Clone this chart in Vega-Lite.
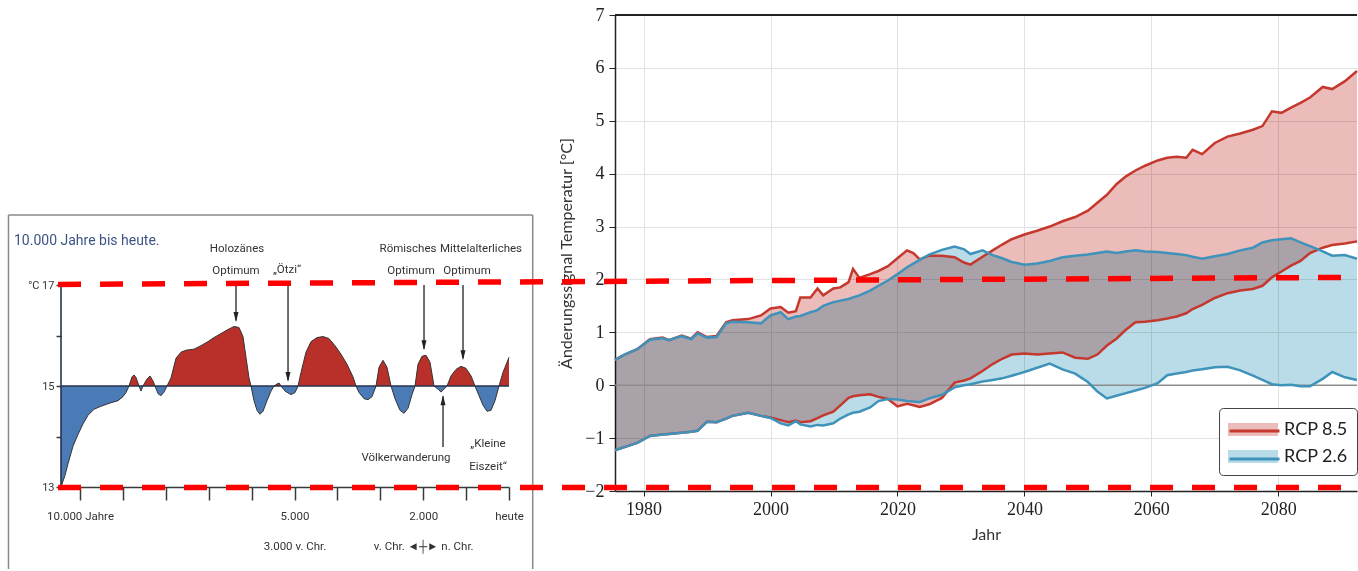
{
"$schema": "https://vega.github.io/schema/vega-lite/v6.json",
"background": "white",
"padding": {"left": 7, "top": 6, "right": 0, "bottom": 0},
"autosize": {"type": "pad"},
"bounds": "flush",
"spacing": 106,
"config": {
  "view": {"stroke": null},
  "font": "Lato"
},
"resolve": {
  "scale": {"x": "independent", "y": "independent", "fill": "independent", "stroke": "independent", "shape": "independent"},
  "legend": {"fill": "independent", "stroke": "independent"}
},
"datasets": {
  "holo": [
    {"t":-10443,"v":13.0,"k":"cold"},{"t":-10350,"v":13.23,"k":"cold"},{"t":-10280,"v":13.46,"k":"cold"},{"t":-10163,"v":13.81,"k":"cold"},{"t":-10047,"v":14.04,"k":"cold"},{"t":-9930,"v":14.25,"k":"cold"},{"t":-9814,"v":14.42,"k":"cold"},{"t":-9674,"v":14.54,"k":"cold"},{"t":-9511,"v":14.6,"k":"cold"},{"t":-9277,"v":14.67,"k":"cold"},{"t":-9114,"v":14.71,"k":"cold"},{"t":-8998,"v":14.79,"k":"cold"},{"t":-8928,"v":14.87,"k":"cold"},{"t":-8858,"v":15,"k":"cold"},
    {"t":-8858,"v":15,"k":"warm"},{"t":-8788,"v":15.18,"k":"warm"},{"t":-8741,"v":15.22,"k":"warm"},{"t":-8695,"v":15.17,"k":"warm"},{"t":-8625,"v":15,"k":"warm"},
    {"t":-8625,"v":15,"k":"cold"},{"t":-8578,"v":14.9,"k":"cold"},{"t":-8532,"v":15,"k":"cold"},
    {"t":-8532,"v":15,"k":"warm"},{"t":-8438,"v":15.14,"k":"warm"},{"t":-8368,"v":15.2,"k":"warm"},{"t":-8298,"v":15.1,"k":"warm"},{"t":-8252,"v":15,"k":"warm"},
    {"t":-8252,"v":15,"k":"cold"},{"t":-8182,"v":14.85,"k":"cold"},{"t":-8112,"v":14.81,"k":"cold"},{"t":-8042,"v":14.88,"k":"cold"},{"t":-7972,"v":15,"k":"cold"},
    {"t":-7972,"v":15,"k":"warm"},{"t":-7879,"v":15.16,"k":"warm"},{"t":-7762,"v":15.55,"k":"warm"},{"t":-7646,"v":15.67,"k":"warm"},{"t":-7529,"v":15.71,"k":"warm"},{"t":-7343,"v":15.73,"k":"warm"},{"t":-7179,"v":15.8,"k":"warm"},{"t":-7016,"v":15.88,"k":"warm"},{"t":-6877,"v":15.96,"k":"warm"},{"t":-6713,"v":16.04,"k":"warm"},{"t":-6550,"v":16.12,"k":"warm"},{"t":-6410,"v":16.18,"k":"warm"},{"t":-6294,"v":16.16,"k":"warm"},{"t":-6200,"v":15.98,"k":"warm"},{"t":-6131,"v":15.57,"k":"warm"},{"t":-6061,"v":15.16,"k":"warm"},{"t":-6014,"v":15,"k":"warm"},
    {"t":-6014,"v":15,"k":"cold"},{"t":-5944,"v":14.71,"k":"cold"},{"t":-5874,"v":14.52,"k":"cold"},{"t":-5804,"v":14.44,"k":"cold"},{"t":-5734,"v":14.5,"k":"cold"},{"t":-5641,"v":14.71,"k":"cold"},{"t":-5548,"v":14.9,"k":"cold"},{"t":-5478,"v":15,"k":"cold"},
    {"t":-5478,"v":15,"k":"warm"},{"t":-5408,"v":15.04,"k":"warm"},{"t":-5361,"v":15.06,"k":"warm"},{"t":-5315,"v":15,"k":"warm"},
    {"t":-5315,"v":15,"k":"cold"},{"t":-5221,"v":14.9,"k":"cold"},{"t":-5081,"v":14.83,"k":"cold"},{"t":-4988,"v":14.87,"k":"cold"},{"t":-4918,"v":15,"k":"cold"},
    {"t":-4918,"v":15,"k":"warm"},{"t":-4848,"v":15.27,"k":"warm"},{"t":-4732,"v":15.67,"k":"warm"},{"t":-4615,"v":15.88,"k":"warm"},{"t":-4475,"v":15.96,"k":"warm"},{"t":-4335,"v":15.98,"k":"warm"},{"t":-4196,"v":15.94,"k":"warm"},{"t":-4056,"v":15.8,"k":"warm"},{"t":-3916,"v":15.63,"k":"warm"},{"t":-3776,"v":15.43,"k":"warm"},{"t":-3636,"v":15.18,"k":"warm"},{"t":-3566,"v":15,"k":"warm"},
    {"t":-3566,"v":15,"k":"cold"},{"t":-3496,"v":14.87,"k":"cold"},{"t":-3380,"v":14.75,"k":"cold"},{"t":-3286,"v":14.73,"k":"cold"},{"t":-3193,"v":14.79,"k":"cold"},{"t":-3100,"v":15,"k":"cold"},
    {"t":-3100,"v":15,"k":"warm"},{"t":-3030,"v":15.37,"k":"warm"},{"t":-2937,"v":15.51,"k":"warm"},{"t":-2844,"v":15.37,"k":"warm"},{"t":-2750,"v":15,"k":"warm"},
    {"t":-2750,"v":15,"k":"cold"},{"t":-2657,"v":14.75,"k":"cold"},{"t":-2541,"v":14.52,"k":"cold"},{"t":-2447,"v":14.46,"k":"cold"},{"t":-2354,"v":14.56,"k":"cold"},{"t":-2261,"v":14.83,"k":"cold"},{"t":-2191,"v":15,"k":"cold"},
    {"t":-2191,"v":15,"k":"warm"},{"t":-2121,"v":15.43,"k":"warm"},{"t":-2028,"v":15.59,"k":"warm"},{"t":-1935,"v":15.61,"k":"warm"},{"t":-1841,"v":15.47,"k":"warm"},{"t":-1748,"v":15,"k":"warm"},
    {"t":-1748,"v":15,"k":"cold"},{"t":-1655,"v":14.94,"k":"cold"},{"t":-1585,"v":14.88,"k":"cold"},{"t":-1515,"v":14.94,"k":"cold"},{"t":-1445,"v":15,"k":"cold"},
    {"t":-1445,"v":15,"k":"warm"},{"t":-1352,"v":15.2,"k":"warm"},{"t":-1235,"v":15.33,"k":"warm"},{"t":-1119,"v":15.39,"k":"warm"},{"t":-1002,"v":15.35,"k":"warm"},{"t":-885,"v":15.2,"k":"warm"},{"t":-792,"v":15,"k":"warm"},
    {"t":-792,"v":15,"k":"cold"},{"t":-699,"v":14.81,"k":"cold"},{"t":-606,"v":14.62,"k":"cold"},{"t":-512,"v":14.5,"k":"cold"},{"t":-419,"v":14.52,"k":"cold"},{"t":-326,"v":14.71,"k":"cold"},{"t":-233,"v":15,"k":"cold"},
    {"t":-233,"v":15,"k":"warm"},{"t":-140,"v":15.27,"k":"warm"},{"t":-46,"v":15.47,"k":"warm"},{"t":0,"v":15.57,"k":"warm"}
  ],
  "lrules": [
    {"kind":"base","x1":-10443,"x2":0,"y1":15,"y2":15},
    {"kind":"axis","x1":-10443,"x2":-10443,"y1":13,"y2":17},
    {"kind":"box","x1":-11667,"x2":-11667,"y1":11.376,"y2":18.388},
    {"kind":"box","x1":-11667,"x2":553,"y1":18.388,"y2":18.388},
    {"kind":"box","x1":553,"x2":553,"y1":11.376,"y2":18.388},
    {"kind":"arrow","x1":-6364,"x2":-6364,"y1":17.0,"y2":16.3},
    {"kind":"arrow","x1":-5151,"x2":-5151,"y1":17.0,"y2":15.12},
    {"kind":"arrow","x1":-1981,"x2":-1981,"y1":17.0,"y2":15.74},
    {"kind":"arrow","x1":-1072,"x2":-1072,"y1":17.0,"y2":15.55},
    {"kind":"arrow","x1":-1538,"x2":-1538,"y1":13.79,"y2":14.8}
  ],
  "lheads": [
    {"t":-6364,"v":16.37,"dir":"down"},
    {"t":-5151,"v":15.18,"dir":"down"},
    {"t":-1981,"v":15.81,"dir":"down"},
    {"t":-1072,"v":15.61,"dir":"down"},
    {"t":-1538,"v":14.72,"dir":"up"}
  ],
  "lnotes": [
    {"t":-6340,"v":17.715,"txt":"Holozänes"},
    {"t":-6364,"v":17.28,"txt":"Optimum"},
    {"t":-5175,"v":17.3,"txt":"„Ötzi“"},
    {"t":-2354,"v":17.715,"txt":"Römisches"},
    {"t":-2284,"v":17.28,"txt":"Optimum"},
    {"t":-653,"v":17.715,"txt":"Mittelalterliches"},
    {"t":-979,"v":17.28,"txt":"Optimum"},
    {"t":-2401,"v":13.574,"txt":"Völkerwanderung"},
    {"t":-489,"v":13.85,"txt":"„Kleine"},
    {"t":-489,"v":13.4,"txt":"Eiszeit“"}
  ],
  "ltitle": [
    {"t":-11539,"v":17.873,"txt":"10.000 Jahre bis heute."}
  ],
  "dash": [
    {"x1":1887.75,"x2":2092.2,"y1":1.906,"y2":2.04},
    {"x1":1887.75,"x2":2092.2,"y1":-1.934,"y2":-1.934}
  ],
  "proj": [
    {"year":1975.5,"s":"RCP 8.5","lo":-1.23,"hi":0.48},
    {"year":1977,"s":"RCP 8.5","lo":-1.17,"hi":0.58},
    {"year":1979,"s":"RCP 8.5","lo":-1.09,"hi":0.68},
    {"year":1981,"s":"RCP 8.5","lo":-0.96,"hi":0.87},
    {"year":1983,"s":"RCP 8.5","lo":-0.93,"hi":0.9},
    {"year":1984,"s":"RCP 8.5","lo":-0.92,"hi":0.85},
    {"year":1986,"s":"RCP 8.5","lo":-0.9,"hi":0.94},
    {"year":1987.5,"s":"RCP 8.5","lo":-0.88,"hi":0.88},
    {"year":1988.5,"s":"RCP 8.5","lo":-0.86,"hi":1.0},
    {"year":1990,"s":"RCP 8.5","lo":-0.69,"hi":0.91},
    {"year":1991.5,"s":"RCP 8.5","lo":-0.7,"hi":0.93},
    {"year":1993,"s":"RCP 8.5","lo":-0.63,"hi":1.19},
    {"year":1994,"s":"RCP 8.5","lo":-0.58,"hi":1.23},
    {"year":1996.5,"s":"RCP 8.5","lo":-0.52,"hi":1.25},
    {"year":1998.5,"s":"RCP 8.5","lo":-0.58,"hi":1.32},
    {"year":2000,"s":"RCP 8.5","lo":-0.61,"hi":1.45},
    {"year":2001.6,"s":"RCP 8.5","lo":-0.66,"hi":1.48},
    {"year":2002.8,"s":"RCP 8.5","lo":-0.7,"hi":1.37},
    {"year":2004,"s":"RCP 8.5","lo":-0.67,"hi":1.4},
    {"year":2004.7,"s":"RCP 8.5","lo":-0.7,"hi":1.66},
    {"year":2006.3,"s":"RCP 8.5","lo":-0.68,"hi":1.66},
    {"year":2007.4,"s":"RCP 8.5","lo":-0.62,"hi":1.83},
    {"year":2008.3,"s":"RCP 8.5","lo":-0.57,"hi":1.7},
    {"year":2009.9,"s":"RCP 8.5","lo":-0.5,"hi":1.83},
    {"year":2011,"s":"RCP 8.5","lo":-0.38,"hi":1.85},
    {"year":2012.3,"s":"RCP 8.5","lo":-0.24,"hi":1.95},
    {"year":2013,"s":"RCP 8.5","lo":-0.21,"hi":2.2},
    {"year":2014,"s":"RCP 8.5","lo":-0.19,"hi":2.03},
    {"year":2015.7,"s":"RCP 8.5","lo":-0.17,"hi":2.1},
    {"year":2017,"s":"RCP 8.5","lo":-0.22,"hi":2.16},
    {"year":2018.5,"s":"RCP 8.5","lo":-0.26,"hi":2.25},
    {"year":2020,"s":"RCP 8.5","lo":-0.4,"hi":2.4},
    {"year":2021.5,"s":"RCP 8.5","lo":-0.35,"hi":2.55},
    {"year":2022.5,"s":"RCP 8.5","lo":-0.38,"hi":2.5},
    {"year":2023.5,"s":"RCP 8.5","lo":-0.41,"hi":2.38},
    {"year":2025,"s":"RCP 8.5","lo":-0.36,"hi":2.45},
    {"year":2027,"s":"RCP 8.5","lo":-0.24,"hi":2.45},
    {"year":2029,"s":"RCP 8.5","lo":0.05,"hi":2.42},
    {"year":2030.5,"s":"RCP 8.5","lo":0.09,"hi":2.32},
    {"year":2031.5,"s":"RCP 8.5","lo":0.13,"hi":2.28},
    {"year":2033.4,"s":"RCP 8.5","lo":0.27,"hi":2.43},
    {"year":2035,"s":"RCP 8.5","lo":0.4,"hi":2.55},
    {"year":2036.5,"s":"RCP 8.5","lo":0.5,"hi":2.66},
    {"year":2038,"s":"RCP 8.5","lo":0.58,"hi":2.76},
    {"year":2040,"s":"RCP 8.5","lo":0.6,"hi":2.85},
    {"year":2042,"s":"RCP 8.5","lo":0.58,"hi":2.92},
    {"year":2044,"s":"RCP 8.5","lo":0.6,"hi":3.0},
    {"year":2046,"s":"RCP 8.5","lo":0.62,"hi":3.1},
    {"year":2048,"s":"RCP 8.5","lo":0.52,"hi":3.18},
    {"year":2050,"s":"RCP 8.5","lo":0.5,"hi":3.3},
    {"year":2051.5,"s":"RCP 8.5","lo":0.58,"hi":3.45},
    {"year":2053,"s":"RCP 8.5","lo":0.75,"hi":3.6},
    {"year":2054.5,"s":"RCP 8.5","lo":0.88,"hi":3.8},
    {"year":2056,"s":"RCP 8.5","lo":1.05,"hi":3.95},
    {"year":2057.5,"s":"RCP 8.5","lo":1.19,"hi":4.06},
    {"year":2059,"s":"RCP 8.5","lo":1.2,"hi":4.15},
    {"year":2061,"s":"RCP 8.5","lo":1.23,"hi":4.25},
    {"year":2062.5,"s":"RCP 8.5","lo":1.26,"hi":4.3},
    {"year":2064,"s":"RCP 8.5","lo":1.3,"hi":4.32},
    {"year":2065.5,"s":"RCP 8.5","lo":1.36,"hi":4.3},
    {"year":2066.5,"s":"RCP 8.5","lo":1.44,"hi":4.45},
    {"year":2068,"s":"RCP 8.5","lo":1.52,"hi":4.37},
    {"year":2070,"s":"RCP 8.5","lo":1.65,"hi":4.58},
    {"year":2072,"s":"RCP 8.5","lo":1.74,"hi":4.7},
    {"year":2074,"s":"RCP 8.5","lo":1.79,"hi":4.76},
    {"year":2076,"s":"RCP 8.5","lo":1.82,"hi":4.83},
    {"year":2077.5,"s":"RCP 8.5","lo":1.88,"hi":4.9},
    {"year":2079,"s":"RCP 8.5","lo":2.04,"hi":5.18},
    {"year":2080.5,"s":"RCP 8.5","lo":2.15,"hi":5.15},
    {"year":2082,"s":"RCP 8.5","lo":2.26,"hi":5.25},
    {"year":2083.5,"s":"RCP 8.5","lo":2.35,"hi":5.34},
    {"year":2085,"s":"RCP 8.5","lo":2.5,"hi":5.44},
    {"year":2087,"s":"RCP 8.5","lo":2.6,"hi":5.64},
    {"year":2088.5,"s":"RCP 8.5","lo":2.65,"hi":5.6},
    {"year":2090.5,"s":"RCP 8.5","lo":2.68,"hi":5.75},
    {"year":2092.4,"s":"RCP 8.5","lo":2.72,"hi":5.94},
    {"year":1975.5,"s":"RCP 2.6","lo":-1.23,"hi":0.48},
    {"year":1977,"s":"RCP 2.6","lo":-1.17,"hi":0.58},
    {"year":1979,"s":"RCP 2.6","lo":-1.09,"hi":0.68},
    {"year":1981,"s":"RCP 2.6","lo":-0.96,"hi":0.86},
    {"year":1983,"s":"RCP 2.6","lo":-0.93,"hi":0.89},
    {"year":1984,"s":"RCP 2.6","lo":-0.92,"hi":0.85},
    {"year":1986,"s":"RCP 2.6","lo":-0.9,"hi":0.93},
    {"year":1987.5,"s":"RCP 2.6","lo":-0.88,"hi":0.87},
    {"year":1988.5,"s":"RCP 2.6","lo":-0.86,"hi":0.98},
    {"year":1990,"s":"RCP 2.6","lo":-0.69,"hi":0.9},
    {"year":1991.5,"s":"RCP 2.6","lo":-0.7,"hi":0.91},
    {"year":1993,"s":"RCP 2.6","lo":-0.63,"hi":1.17},
    {"year":1994,"s":"RCP 2.6","lo":-0.58,"hi":1.2},
    {"year":1996.5,"s":"RCP 2.6","lo":-0.52,"hi":1.19},
    {"year":1998.5,"s":"RCP 2.6","lo":-0.58,"hi":1.17},
    {"year":2000,"s":"RCP 2.6","lo":-0.62,"hi":1.32},
    {"year":2001.6,"s":"RCP 2.6","lo":-0.72,"hi":1.38},
    {"year":2002.8,"s":"RCP 2.6","lo":-0.76,"hi":1.25},
    {"year":2004,"s":"RCP 2.6","lo":-0.68,"hi":1.3},
    {"year":2004.7,"s":"RCP 2.6","lo":-0.74,"hi":1.31},
    {"year":2006.3,"s":"RCP 2.6","lo":-0.78,"hi":1.38},
    {"year":2007.4,"s":"RCP 2.6","lo":-0.75,"hi":1.42},
    {"year":2008.3,"s":"RCP 2.6","lo":-0.76,"hi":1.5},
    {"year":2009.9,"s":"RCP 2.6","lo":-0.72,"hi":1.57},
    {"year":2011,"s":"RCP 2.6","lo":-0.63,"hi":1.6},
    {"year":2012.3,"s":"RCP 2.6","lo":-0.55,"hi":1.63},
    {"year":2013,"s":"RCP 2.6","lo":-0.52,"hi":1.66},
    {"year":2014,"s":"RCP 2.6","lo":-0.5,"hi":1.7},
    {"year":2015.7,"s":"RCP 2.6","lo":-0.42,"hi":1.79},
    {"year":2017,"s":"RCP 2.6","lo":-0.3,"hi":1.88},
    {"year":2018.5,"s":"RCP 2.6","lo":-0.26,"hi":1.98},
    {"year":2020,"s":"RCP 2.6","lo":-0.27,"hi":2.1},
    {"year":2021.5,"s":"RCP 2.6","lo":-0.3,"hi":2.23},
    {"year":2022.5,"s":"RCP 2.6","lo":-0.31,"hi":2.3},
    {"year":2023.5,"s":"RCP 2.6","lo":-0.32,"hi":2.37},
    {"year":2025,"s":"RCP 2.6","lo":-0.25,"hi":2.47},
    {"year":2027,"s":"RCP 2.6","lo":-0.18,"hi":2.56},
    {"year":2029,"s":"RCP 2.6","lo":-0.04,"hi":2.62},
    {"year":2030.5,"s":"RCP 2.6","lo":0.0,"hi":2.57},
    {"year":2031.5,"s":"RCP 2.6","lo":0.02,"hi":2.48},
    {"year":2033.4,"s":"RCP 2.6","lo":0.07,"hi":2.55},
    {"year":2035,"s":"RCP 2.6","lo":0.1,"hi":2.46},
    {"year":2036.5,"s":"RCP 2.6","lo":0.13,"hi":2.4},
    {"year":2038,"s":"RCP 2.6","lo":0.18,"hi":2.33},
    {"year":2040,"s":"RCP 2.6","lo":0.25,"hi":2.28},
    {"year":2042,"s":"RCP 2.6","lo":0.33,"hi":2.3},
    {"year":2044,"s":"RCP 2.6","lo":0.41,"hi":2.35},
    {"year":2046,"s":"RCP 2.6","lo":0.3,"hi":2.42},
    {"year":2048,"s":"RCP 2.6","lo":0.22,"hi":2.45},
    {"year":2050,"s":"RCP 2.6","lo":0.06,"hi":2.47},
    {"year":2051.5,"s":"RCP 2.6","lo":-0.12,"hi":2.5},
    {"year":2053,"s":"RCP 2.6","lo":-0.25,"hi":2.53},
    {"year":2054.5,"s":"RCP 2.6","lo":-0.2,"hi":2.5},
    {"year":2056,"s":"RCP 2.6","lo":-0.15,"hi":2.53},
    {"year":2057.5,"s":"RCP 2.6","lo":-0.1,"hi":2.55},
    {"year":2059,"s":"RCP 2.6","lo":-0.05,"hi":2.53},
    {"year":2061,"s":"RCP 2.6","lo":0.04,"hi":2.52},
    {"year":2062.5,"s":"RCP 2.6","lo":0.19,"hi":2.5},
    {"year":2064,"s":"RCP 2.6","lo":0.22,"hi":2.48},
    {"year":2065.5,"s":"RCP 2.6","lo":0.25,"hi":2.46},
    {"year":2066.5,"s":"RCP 2.6","lo":0.28,"hi":2.43},
    {"year":2068,"s":"RCP 2.6","lo":0.3,"hi":2.39},
    {"year":2070,"s":"RCP 2.6","lo":0.34,"hi":2.44},
    {"year":2072,"s":"RCP 2.6","lo":0.35,"hi":2.48},
    {"year":2074,"s":"RCP 2.6","lo":0.28,"hi":2.55},
    {"year":2076,"s":"RCP 2.6","lo":0.18,"hi":2.6},
    {"year":2077.5,"s":"RCP 2.6","lo":0.1,"hi":2.7},
    {"year":2079,"s":"RCP 2.6","lo":0.02,"hi":2.74},
    {"year":2080.5,"s":"RCP 2.6","lo":0.0,"hi":2.76},
    {"year":2082,"s":"RCP 2.6","lo":0.01,"hi":2.78},
    {"year":2083.5,"s":"RCP 2.6","lo":-0.02,"hi":2.7},
    {"year":2085,"s":"RCP 2.6","lo":-0.02,"hi":2.63},
    {"year":2087,"s":"RCP 2.6","lo":0.12,"hi":2.53},
    {"year":2088.5,"s":"RCP 2.6","lo":0.25,"hi":2.45},
    {"year":2090.5,"s":"RCP 2.6","lo":0.15,"hi":2.46},
    {"year":2092.4,"s":"RCP 2.6","lo":0.1,"hi":2.39}
  ]
},
"hconcat": [
  {
    "width": 448,
    "height": 472,
    "layer": [
      {
        "data": {"name": "holo"},
        "mark": {"type": "area"},
        "encoding": {
          "x": {"field": "t", "type": "quantitative", "scale": {"domain": [-10443, 0], "nice": false, "zero": false},
            "axis": {"values": [-10000,-9000,-8000,-7000,-6000,-5000,-4000,-3000,-2000,-1000,0],
              "labelExpr": "datum.value == -10000 ? '10.000 Jahre' : datum.value == -5000 ? ['5.000', '3.000 v. Chr.'] : datum.value == -2000 ? ['2.000', 'v. Chr. ◄┼► n. Chr.'] : datum.value == 0 ? 'heute' : ''",
              "title": null, "grid": false, "tickSize": 13, "tickWidth": 1.5, "tickColor": "#3a3a3a",
              "domainColor": "#3a3a3a", "domainWidth": 1.5,
              "labelFont": "Roboto", "labelFontSize": 11.5, "labelFlush": false, "labelOverlap": false, "labelBound": false,
              "labelColor": "#333333", "labelPadding": 10, "labelLineHeight": 30}},
          "y": {"field": "v", "type": "quantitative", "scale": {"domain": [13, 22.35], "nice": false, "zero": false},
            "axis": {"values": [13,14,15,16,17],
              "labelExpr": "datum.value == 17 ? '°C 17' : datum.value == 15 ? '15' : datum.value == 13 ? '13' : ''",
              "title": null, "grid": false, "domain": false, "tickSize": 5, "tickWidth": 1.5, "tickColor": "#3a3a3a",
              "labelFont": "Roboto", "labelFontSize": 11, "labelFlush": false, "labelOverlap": false, "labelBound": false,
              "labelColor": "#333333", "labelPadding": 2}},
          "y2": {"datum": 15},
          "fill": {"field": "k", "type": "nominal", "scale": {"domain": ["warm", "cold"], "range": ["#b9302a", "#4b7bb7"]}, "legend": null}
        }
      },
      {
        "data": {"name": "holo"},
        "mark": {"type": "line", "color": "#333333", "strokeWidth": 1},
        "encoding": {
          "x": {"field": "t", "type": "quantitative"},
          "y": {"field": "v", "type": "quantitative"}
        }
      },
      {
        "data": {"name": "lrules"},
        "transform": [{"filter": "datum.kind == 'base' || datum.kind == 'axis'"}],
        "mark": {"type": "rule", "color": "#27324a", "strokeWidth": 1.6, "clip": false},
        "encoding": {
          "x": {"field": "x1", "type": "quantitative"}, "x2": {"field": "x2"},
          "y": {"field": "y1", "type": "quantitative"}, "y2": {"field": "y2"}
        }
      },
      {
        "data": {"name": "lrules"},
        "transform": [{"filter": "datum.kind == 'box'"}],
        "mark": {"type": "rule", "color": "#8a8a8a", "strokeWidth": 1.5, "clip": false},
        "encoding": {
          "x": {"field": "x1", "type": "quantitative"}, "x2": {"field": "x2"},
          "y": {"field": "y1", "type": "quantitative"}, "y2": {"field": "y2"}
        }
      },
      {
        "data": {"name": "lrules"},
        "transform": [{"filter": "datum.kind == 'arrow'"}],
        "mark": {"type": "rule", "color": "#222222", "strokeWidth": 1.3, "clip": false},
        "encoding": {
          "x": {"field": "x1", "type": "quantitative"}, "x2": {"field": "x2"},
          "y": {"field": "y1", "type": "quantitative"}, "y2": {"field": "y2"}
        }
      },
      {
        "data": {"name": "lheads"},
        "mark": {"type": "point", "filled": true, "color": "#222222", "size": 100, "opacity": 1, "clip": false},
        "encoding": {
          "x": {"field": "t", "type": "quantitative"},
          "y": {"field": "v", "type": "quantitative"},
          "shape": {"field": "dir", "type": "nominal", "scale": {"domain": ["down", "up"], "range": ["M-0.5,-1L0.5,-1L0,1Z", "M-0.5,1L0.5,1L0,-1Z"]}, "legend": null}
        }
      },
      {
        "data": {"name": "lnotes"},
        "mark": {"type": "text", "font": "Roboto", "fontSize": 11.5, "color": "#333333", "align": "center", "baseline": "middle", "clip": false},
        "encoding": {
          "x": {"field": "t", "type": "quantitative"},
          "y": {"field": "v", "type": "quantitative"},
          "text": {"field": "txt"}
        }
      },
      {
        "data": {"name": "ltitle"},
        "mark": {"type": "text", "font": "Roboto", "fontSize": 14, "color": "#3d5487", "align": "left", "baseline": "middle", "clip": false},
        "encoding": {
          "x": {"field": "t", "type": "quantitative"},
          "y": {"field": "v", "type": "quantitative"},
          "text": {"field": "txt"}
        }
      }
    ]
  },
  {
    "width": 742,
    "height": 476,
    "layer": [
      {
        "data": {"name": "proj"},
        "mark": {"type": "area", "blend": "multiply"},
        "encoding": {
          "x": {"field": "year", "type": "quantitative", "scale": {"domain": [1975.5, 2092.4], "nice": false, "zero": false},
            "axis": {"values": [1980, 2000, 2020, 2040, 2060, 2080], "format": "d", "title": "Jahr",
              "titleFont": "Lato", "titleFontSize": 16, "titleFontWeight": "normal", "titleColor": "#333333", "titlePadding": 8,
              "labelFont": "Liberation Serif, DejaVu Serif, serif", "labelFontSize": 18, "labelColor": "#222222", "labelPadding": 4,
              "labelFlush": false, "labelOverlap": false, "labelBound": false,
              "tickSize": 5, "tickColor": "#222222", "domainColor": "#222222", "domainWidth": 1.5,
              "grid": true, "gridColor": "#e2e2e2", "gridWidth": 1}},
          "y": {"field": "lo", "type": "quantitative", "scale": {"domain": [-2, 7], "nice": false, "zero": false},
            "axis": {"values": [-2,-1,0,1,2,3,4,5,6,7], "format": "d", "title": "Änderungssignal Temperatur [°C]",
              "titleFont": "Lato", "titleFontSize": 16, "titleFontWeight": "normal", "titleColor": "#333333", "titlePadding": 10,
              "labelFont": "Liberation Serif, DejaVu Serif, serif", "labelFontSize": 18, "labelColor": "#222222", "labelPadding": 5,
              "labelFlush": false, "labelOverlap": false, "labelBound": false,
              "tickSize": 6, "tickColor": "#222222", "domainColor": "#222222", "domainWidth": 1.5,
              "grid": true, "gridColor": "#e2e2e2", "gridWidth": 1}},
          "y2": {"field": "hi"},
          "fill": {"field": "s", "type": "nominal", "scale": {"domain": ["RCP 8.5", "RCP 2.6"], "range": ["#ebbcba", "#b9dce8"]},
            "legend": {"orient": "none", "legendX": 604, "legendY": 393, "title": null, "values": ["RCP 8.5", "RCP 2.6"],
              "symbolType": "M-1,-0.52H3V0.52H-1Z", "symbolSize": 625, "symbolStrokeWidth": 0,
              "labelFont": "Lato", "labelFontSize": 18, "labelColor": "#222222", "labelOffset": 31,
              "padding": 9, "rowPadding": 5, "strokeColor": "#444444", "fillColor": "#ffffff", "cornerRadius": 4}}
        }
      },
      {
        "data": {"values": [{}]},
        "mark": {"type": "rule", "color": "#8c8c8c", "strokeWidth": 1.5},
        "encoding": {"y": {"datum": 0, "type": "quantitative"}}
      },
      {
        "data": {"values": [{}]},
        "mark": {"type": "rule", "color": "#222222", "strokeWidth": 2},
        "encoding": {"y": {"datum": 7, "type": "quantitative"}}
      },
      {
        "data": {"name": "proj"},
        "mark": {"type": "line", "strokeWidth": 2.5},
        "encoding": {
          "x": {"field": "year", "type": "quantitative"},
          "y": {"field": "lo", "type": "quantitative"},
          "stroke": {"field": "s", "type": "nominal", "scale": {"range": ["#3f93ba", "#c4382e"]},
            "legend": {"orient": "none", "legendX": 604, "legendY": 393, "title": null, "values": ["RCP 8.5", "RCP 2.6"],
              "symbolType": "M-1,0H3", "symbolSize": 625, "symbolStrokeWidth": 3,
              "labelFont": "Lato", "labelFontSize": 18, "labelExpr": "''", "labelOffset": 31,
              "padding": 9, "rowPadding": 5}}
        }
      },
      {
        "data": {"name": "proj"},
        "mark": {"type": "line", "strokeWidth": 2.5},
        "encoding": {
          "x": {"field": "year", "type": "quantitative"},
          "y": {"field": "hi", "type": "quantitative"},
          "stroke": {"field": "s", "type": "nominal"}
        }
      },
      {
        "data": {"name": "dash"},
        "mark": {"type": "rule", "color": "#ff0000", "strokeWidth": 5.5, "strokeDash": [23, 19], "clip": false},
        "encoding": {
          "x": {"field": "x1", "type": "quantitative"},
          "x2": {"field": "x2"},
          "y": {"field": "y1", "type": "quantitative"},
          "y2": {"field": "y2"}
        }
      }
    ]
  }
]
}
